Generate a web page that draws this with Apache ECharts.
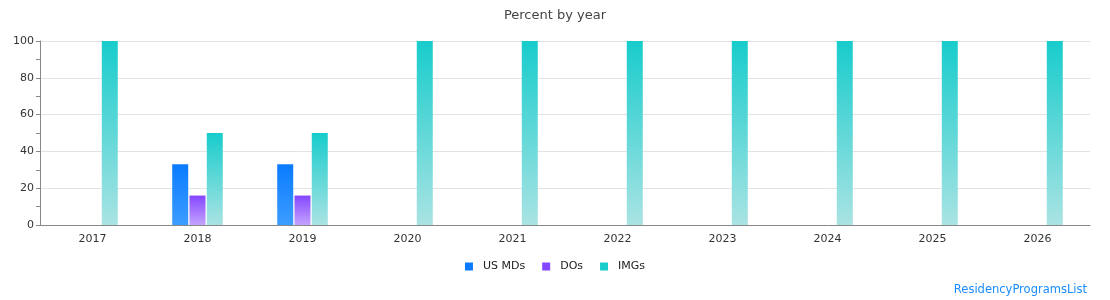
<!DOCTYPE html>
<html><head><meta charset="utf-8">
<script src="https://cdn.jsdelivr.net/npm/echarts@6/dist/echarts.min.js"></script>
<style>html,body{margin:0;padding:0;background:#fff}#c{width:1110px;height:300px}</style>
</head><body><div id="c"></div>
<script>
const years = ['2017','2018','2019','2020','2021','2022','2023','2024','2025','2026'];
const usMDs = [0, 33, 33, 0, 0, 0, 0, 0, 0, 0];
const DOs   = [0, 16, 16, 0, 0, 0, 0, 0, 0, 0];
const IMGs  = [100, 50, 50, 100, 100, 100, 100, 100, 100, 100];
const yTicks = [0, 20, 40, 60, 80, 100];

function grad(top, bottom){
  return new echarts.graphic.LinearGradient(0,0,0,1,[{offset:0,color:top},{offset:1,color:bottom}]);
}
const font = 'DejaVu Sans';
const chart = echarts.init(document.getElementById('c'), null, {renderer:'canvas'});
chart.setOption({
  animation:false,
  textStyle:{fontFamily:font},
  title:{text:'Percent by year', left:'center', top:4, textStyle:{fontFamily:font,fontSize:13,fontWeight:'normal',color:'#444'}},
  graphic:[{type:'text', right:23, top:284, style:{text:'ResidencyProgramsList', fill:'#1a8cff', font:'11.5px "DejaVu Sans"'}}],
  legend:{bottom:23, left:'center', itemWidth:8, itemHeight:8, itemGap:17, icon:'rect',
    textStyle:{fontFamily:font,fontSize:11,color:'#222',padding:[0,0,0,5]},
    data:[
      {name:'US MDs',itemStyle:{color:'#0a7bff'}},
      {name:'DOs',itemStyle:{color:'#8547ff'}},
      {name:'IMGs',itemStyle:{color:'#18cccc'}}]},
  grid:{left:40, right:20, top:41, bottom:75},
  xAxis:{type:'category', data:years,
    axisLine:{lineStyle:{color:'#888'}}, axisTick:{show:false},
    axisLabel:{fontFamily:font,fontSize:11,color:'#333',margin:9}},
  yAxis:{type:'value', min:yTicks[0], max:yTicks[yTicks.length-1], interval:20,
    axisLine:{show:true,lineStyle:{color:'#888'}},
    axisTick:{show:true,length:4,lineStyle:{color:'#888'}},
    minorTick:{show:true,splitNumber:2,length:4,lineStyle:{color:'#888'}},
    splitLine:{lineStyle:{color:'#e3e3e3'}},
    axisLabel:{fontFamily:font,fontSize:11,color:'#333',margin:6}},
  series:[
    {name:'US MDs', type:'bar', data:usMDs, barWidth:16, barGap:'8%',
      itemStyle:{color:grad('#0a7bff','#3d9dff')}},
    {name:'DOs', type:'bar', data:DOs, barWidth:16, barGap:'8%',
      itemStyle:{color:grad('#8547ff','#c3a3ff')}},
    {name:'IMGs', type:'bar', data:IMGs, barWidth:16, barGap:'8%',
      itemStyle:{color:grad('#18cccc','#aae3e3')}}
  ]
});
</script></body></html>
